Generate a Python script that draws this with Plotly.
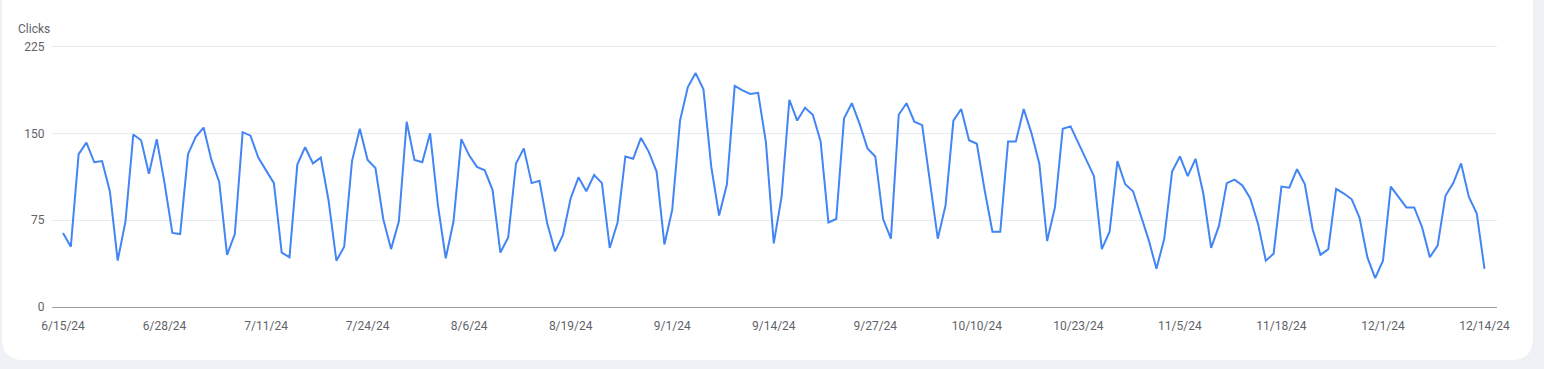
import pandas as pd
import plotly.graph_objects as go

# ---------------- data ----------------
start_date = "2024-06-15"
clicks = [
    64, 52, 132, 142, 125, 126, 100, 40, 74, 149, 144, 115, 145, 107, 64, 63,
    132, 147, 155, 127, 108, 45, 63, 151, 148, 129, 118, 107, 47, 43, 123, 138,
    124, 129, 92, 40, 52, 126, 154, 127, 120, 76, 50, 74, 160, 127, 125, 150,
    88, 42, 74, 145, 131, 121, 118, 101, 47, 60, 124, 137, 107, 109, 72, 48,
    62, 94, 112, 100, 114, 107, 51, 73, 130, 128, 146, 134, 117, 54, 84, 161,
    190, 202, 188, 121, 79, 106, 191, 187, 184, 185, 142, 55, 95, 179, 161, 172,
    166, 143, 73, 76, 163, 176, 158, 137, 130, 76, 59, 166, 176, 160, 157, 107,
    59, 88, 161, 171, 144, 141, 101, 65, 65, 143, 143, 171, 150, 124, 57, 86,
    154, 156, 142, 128, 113, 50, 65, 126, 106, 100, 79, 58, 33, 59, 117, 130,
    113, 128, 98, 51, 70, 107, 110, 105, 94, 72, 40, 46, 104, 103, 119, 106,
    67, 45, 50, 102, 98, 93, 77, 43, 25, 40, 104, 95, 86, 86, 69, 43,
    53, 96, 107, 124, 95, 81, 33,
]
x_tick_labels = ["6/15/24", "6/28/24", "7/11/24", "7/24/24", "8/6/24", "8/19/24",
                 "9/1/24", "9/14/24", "9/27/24", "10/10/24", "10/23/24", "11/5/24",
                 "11/18/24", "12/1/24", "12/14/24"]
y_tick_values = [0, 75, 150, 225]
y_title = "Clicks"

dates = pd.date_range(start_date, periods=len(clicks), freq="D")
tick_dates = pd.to_datetime(x_tick_labels, format="%m/%d/%y")

# ---------------- layout geometry ----------------
W, H = 1544, 369
L, R, T, B = 52, 47, 43, 62
pw, ph = W - L - R, H - T - B
Y_TOP = 228


def px(xp):
    return (xp - L) / pw


def py(yp):
    return (H - B - yp) / ph


# white card with rounded bottom corners
x0, x1, ybot, rad = 2, 1533, 360, 22
card = (f"M {px(x0)},{py(-20)} L {px(x1)},{py(-20)} "
        f"L {px(x1)},{py(ybot - rad)} Q {px(x1)},{py(ybot)} {px(x1 - rad)},{py(ybot)} "
        f"L {px(x0 + rad)},{py(ybot)} Q {px(x0)},{py(ybot)} {px(x0)},{py(ybot - rad)} Z")

fig = go.Figure()
fig.add_trace(go.Scatter(
    x=dates, y=clicks, mode="lines",
    line=dict(color="#4285f4", width=2),
    hoverinfo="x+y", showlegend=False,
))

x_lo = dates[0] - pd.Timedelta(hours=1.41 * 24)
x_hi = dates[-1] + pd.Timedelta(hours=1.6 * 24)

fig.update_layout(
    width=W, height=H,
    margin=dict(l=L, r=R, t=T, b=B, pad=0),
    paper_bgcolor="#eef2f7",
    plot_bgcolor="rgba(0,0,0,0)",
    font=dict(family="Roboto, Arial, sans-serif", size=12, color="#5f6368"),
    shapes=[dict(type="path", path=card, xref="paper", yref="paper",
                 fillcolor="white", line=dict(width=0), layer="below")],
    annotations=[dict(text=y_title, xref="paper", yref="paper",
                      x=px(16), y=py(29), xanchor="left", yanchor="middle",
                      showarrow=False, font=dict(size=12, color="#5f6368"))],
    xaxis=dict(
        range=[x_lo, x_hi], tickmode="array", tickvals=tick_dates,
        ticktext=x_tick_labels, showgrid=False, zeroline=False,
        showline=True, linecolor="#9aa0a6", linewidth=1,
        ticks="outside", ticklen=8, tickcolor="rgba(0,0,0,0)",
        tickfont=dict(size=12, color="#5f6368"),
    ),
    yaxis=dict(
        range=[0, Y_TOP], tickmode="array", tickvals=y_tick_values,
        showgrid=True, gridcolor="#e8eaed", gridwidth=1, zeroline=False,
        showline=False, ticks="outside", ticklen=4, tickcolor="rgba(0,0,0,0)",
        tickfont=dict(size=12, color="#5f6368"),
    ),
)

fig.write_html("out.html", config={"displayModeBar": False},
               post_script="document.body.style.margin='0';document.body.style.overflow='hidden';")
